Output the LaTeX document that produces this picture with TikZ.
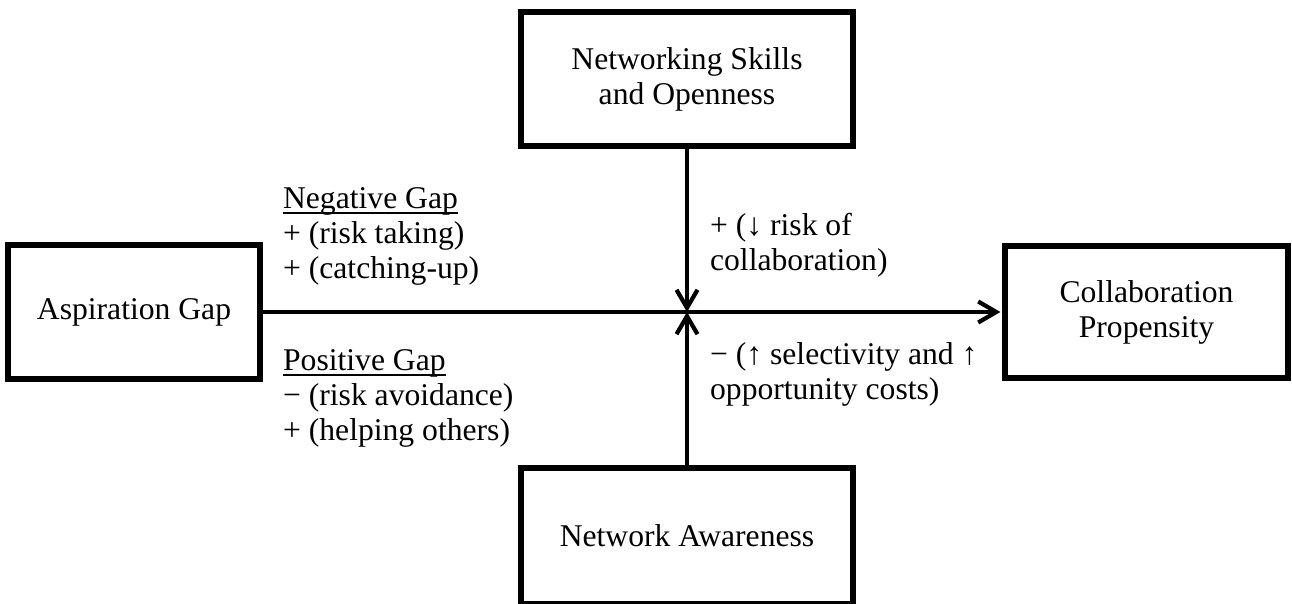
\documentclass[tikz,border=0pt]{standalone}
\usepackage{fontspec}
\setmainfont{Liberation Serif}
\usepackage{tikz}
\usetikzlibrary{arrows.meta}

\newcommand{\gapline}[1]{\setbox0\hbox{#1}\rlap{\rule[-3pt]{\wd0}{1pt}}\box0}

\begin{document}
\begin{tikzpicture}[>={Straight Barb[length=0.36cm,width=0.42cm]}, line width=2.4pt,
  box/.style={draw, line width=3.2pt, align=center, inner sep=0pt,
    font=\fontsize{18}{19.85}\selectfont},
  lbl/.style={align=left, anchor=west, inner sep=0pt,
    font=\fontsize{18}{19.85}\selectfont}]
  \useasboundingbox (0,0) rectangle (25.84,12.06);
  \node[box, minimum width=5.04cm, minimum height=2.68cm] (asp) at (2.68,5.82) {Aspiration Gap};
  \node[box, minimum width=6.64cm, minimum height=2.68cm] (skill) at (13.74,10.48) {Networking Skills\\and Openness};
  \node[box, minimum width=6.64cm, minimum height=2.72cm] (aware) at (13.74,1.34) {Network Awareness};
  \node[box, minimum width=5.66cm, minimum height=2.64cm] (collab) at (22.93,5.82) {Collaboration\\Propensity};
  \coordinate (hub) at (13.74,5.82);
  \node[lbl] (neg) at (5.62,7.33) {\gapline{Negative Gap}\\+ (risk taking)\\+ (catching-up)};
  \node[lbl] (pos) at (5.62,4.09) {\gapline{Positive Gap}\\− (risk avoidance)\\+ (helping others)};
  \node[lbl] (down) at (14.16,7.16) {+ (↓ risk of\\collaboration)};
  \node[lbl] (up) at (14.16,4.57) {− (↑ selectivity and ↑\\opportunity costs)};
  \draw[->, shorten >=1pt] (asp) -- (collab);
  \draw[->] (skill) -- (hub);
  \draw[->] (aware) -- (hub);
\end{tikzpicture}
\end{document}
